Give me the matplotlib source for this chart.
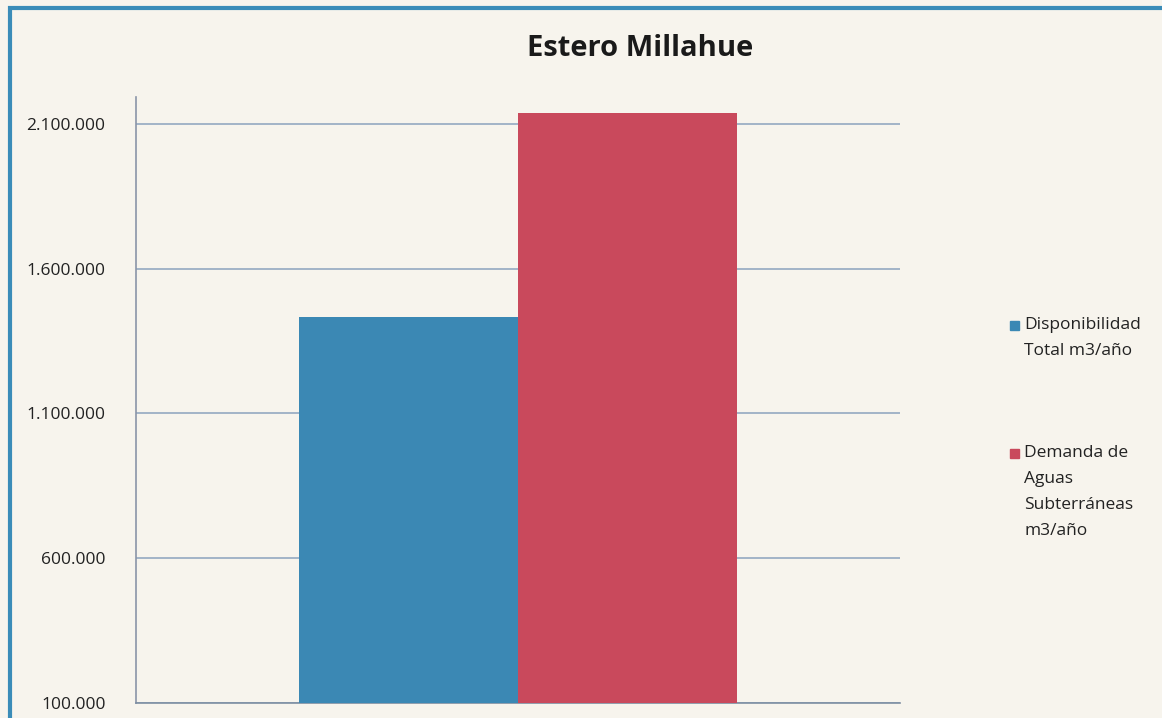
import matplotlib.pyplot as plt
from matplotlib.patches import Rectangle

# -------------------- data --------------------
series = ['Disponibilidad\nTotal m3/año', 'Demanda de\nAguas\nSubterráneas\nm3/año']
values = [1434000, 2138000]
colors = ['#3b88b4', '#c9495c']
yticks = [100000, 600000, 1100000, 1600000, 2100000]
ytick_labels = ['100.000', '600.000', '1.100.000', '1.600.000', '2.100.000']

plt.rcParams['font.family'] = ['Open Sans', 'DejaVu Sans']

W, H = 1162, 718
fig = plt.figure(figsize=(W / 100, H / 100), dpi=100)
fig.patch.set_facecolor('#f7f4ed')

# blue frame round the chart (right and bottom run off the picture)
fig.patches.append(Rectangle((10 / W, -0.05), 1.2, 1 - 8 / H + 0.05,
                             transform=fig.transFigure, fill=False,
                             edgecolor='#3a8cb8', linewidth=3))

ax = fig.add_axes([136 / W, 1 - 703 / H, 764 / W, (703 - 97) / H])
ax.set_facecolor('none')

width = 0.2865
offsets = [-width / 2, width / 2]
for off, v, c, lab in zip(offsets, values, colors, series):
    ax.bar(off, v - 100000, bottom=100000, width=width, color=c, label=lab, zorder=3)

ax.set_xlim(-0.5, 0.5)
ax.set_ylim(100000, 2193000)
ax.set_yticks(yticks)
ax.set_yticklabels(ytick_labels, fontsize=12.5, color='#222222')
ax.set_xticks([])
ax.tick_params(axis='y', length=0, pad=22)
ax.grid(axis='y', color='#8ba3bd', linewidth=1.1, zorder=1)

for s in ['top', 'right']:
    ax.spines[s].set_visible(False)
ax.spines['left'].set_color('#8a94a8')
ax.spines['bottom'].set_color('#7d8ea2')
ax.spines['left'].set_linewidth(1.2)
ax.spines['bottom'].set_linewidth(1.2)

fig.text(640 / W, 1 - 48 / H, 'Estero Millahue', ha='center', va='center',
         fontsize=21, fontweight='bold', color='#1a1a1a')

# legend drawn by hand: marker next to the first line of each label
legend_tops = [325, 453]
for lab, c, ytop in zip(series, colors, legend_tops):
    fig.patches.append(Rectangle((1010 / W, 1 - (ytop + 5) / H), 9 / W, 9 / H,
                                 transform=fig.transFigure, color=c))
    for i, line in enumerate(lab.split('\n')):
        fig.text(1024 / W, 1 - (ytop + 26 * i) / H, line, ha='left', va='center',
                 fontsize=12.5, color='#222222')

fig.savefig('out.png', dpi=100, facecolor=fig.get_facecolor())
